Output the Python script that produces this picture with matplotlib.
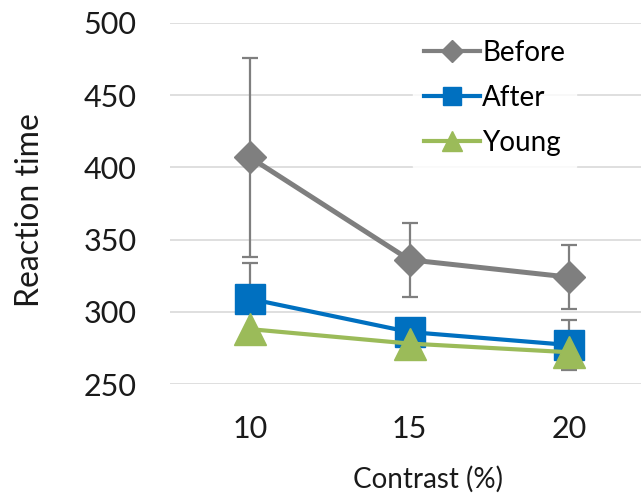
import matplotlib
matplotlib.use("Agg")
import matplotlib.pyplot as plt
from matplotlib.lines import Line2D

plt.rcParams['font.family'] = ['Lato', 'DejaVu Sans']

# Data
contrast = ['10', '15', '20']
before = [407, 336, 324]
before_err = [69, 25.5, 22]
after = [309, 286, 277]
after_err = [25, 8, 17]
young = [288, 278, 272]

gray = '#7F7F7F'
blue = '#0070C0'
green = '#9BBB59'

fig = plt.figure(figsize=(6.41, 4.98), dpi=100)
ax = fig.add_axes([170 / 641, 1 - 384 / 498, 479 / 641, 361 / 498])

x = list(range(len(contrast)))

ax.errorbar(x, before, yerr=before_err, fmt='none', ecolor=gray,
            elinewidth=1.6, capsize=6, capthick=1.6, zorder=2)
ax.errorbar(x, after, yerr=after_err, fmt='none', ecolor=gray,
            elinewidth=1.6, capsize=6, capthick=1.6, zorder=2)

ax.plot(x, before, color=gray, lw=3.6, marker='D', ms=16, zorder=3)
ax.plot(x, after, color=blue, lw=3, marker='s', ms=22, zorder=4)
ax.plot(x, young, color=green, lw=3, marker='^', ms=23, zorder=5)

ax.set_xlim(-0.5, 2.5)
ax.set_ylim(250, 500)
ax.set_yticks([250, 300, 350, 400, 450, 500])
ax.set_xticks(x)
ax.set_xticklabels(contrast)

ax.grid(axis='y', color='#D9D9D9', lw=1.2)
ax.set_axisbelow(True)
for s in ax.spines.values():
    s.set_visible(False)
ax.tick_params(length=0, labelsize=22, colors='#1A1A1A')
ax.tick_params(axis='y', pad=24)
ax.tick_params(axis='x', pad=22)

fig.text(30 / 641, 1 - 210 / 498, 'Reaction time', rotation=90,
         ha='center', va='center', fontsize=23, color='#1A1A1A')
fig.text(428 / 641, 1 - 479 / 498, 'Contrast (%)', ha='center',
         va='center', fontsize=20, color='#1A1A1A')

handles = [
    Line2D([], [], color=gray, lw=3, marker='D', ms=11),
    Line2D([], [], color=blue, lw=3, marker='s', ms=13),
    Line2D([], [], color=green, lw=3, marker='^', ms=14),
]
leg = fig.legend(handles, ['Before', 'After', 'Young'],
                 loc='upper left', bbox_to_anchor=(399 / 641, 1 - 15 / 498),
                 fontsize=20, frameon=True, fancybox=False,
                 handlelength=2.0, handletextpad=0.1, labelspacing=0.68,
                 borderpad=0.4)
leg.get_frame().set_edgecolor('white')
leg.get_frame().set_facecolor('white')

fig.savefig('out.png', dpi=100)
